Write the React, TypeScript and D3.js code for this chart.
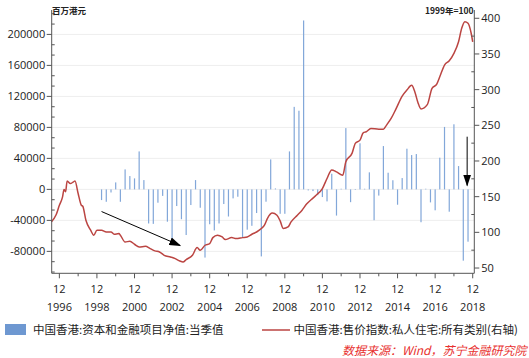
import React from 'react';
import * as d3 from 'd3';

const W = 529;
const H = 358;

// Quarterly net capital & financial account (HK$ mn), 1999Q1 - 2018Q3
const flowQuarters = [
  '1999Q1','1999Q2','1999Q3','1999Q4',
  '2000Q1','2000Q2','2000Q3','2000Q4',
  '2001Q1','2001Q2','2001Q3','2001Q4',
  '2002Q1','2002Q2','2002Q3','2002Q4',
  '2003Q1','2003Q2','2003Q3','2003Q4',
  '2004Q1','2004Q2','2004Q3','2004Q4',
  '2005Q1','2005Q2','2005Q3','2005Q4',
  '2006Q1','2006Q2','2006Q3','2006Q4',
  '2007Q1','2007Q2','2007Q3','2007Q4',
  '2008Q1','2008Q2','2008Q3','2008Q4',
  '2009Q1','2009Q2','2009Q3','2009Q4',
  '2010Q1','2010Q2','2010Q3','2010Q4',
  '2011Q1','2011Q2','2011Q3','2011Q4',
  '2012Q1','2012Q2','2012Q3','2012Q4',
  '2013Q1','2013Q2','2013Q3','2013Q4',
  '2014Q1','2014Q2','2014Q3','2014Q4',
  '2015Q1','2015Q2','2015Q3','2015Q4',
  '2016Q1','2016Q2','2016Q3','2016Q4',
  '2017Q1','2017Q2','2017Q3','2017Q4',
  '2018Q1','2018Q2','2018Q3',
];
const flowValues = [
  -13800, -16000, -4000, 9000,
  -16000, 25800, 17200, 14200,
  49000, 12000, -44000, -44500,
  -17200, -8400, -41700, -67000,
  -21500, -38500, -58900, -20200,
  12000, -23700, -88000, -45000,
  -53000, -44000, -18900, -35000,
  -11600, -9500, -62000, -52000,
  -47000, -30500, -86500, -15900,
  38700, 1200, -31500, -31500,
  49000, 106500, 101500, 218000,
  -1300, -2200, -7500, -9900,
  -15500, 20200, -33800, 800,
  79100, -16500, -500, 59500,
  800, 22000, -39800, -8000,
  55900, 21500, 11800, -19800,
  14600, 52500, 44300, 45600,
  -42400, 800, -16800, -27000,
  40900, 80600, -28800, 84000,
  30100, -92000, -67500,
];

// Private domestic price index, all classes (1999=100), right axis
const priceMonths = [
  '1996-07','1996-10','1996-12','1997-02','1997-03','1997-04','1997-05','1997-07','1997-09','1997-10','1997-12',
  '1998-02','1998-03','1998-05','1998-08','1998-10','1998-12',
  '1999-03','1999-06','1999-09','1999-11',
  '2000-02','2000-03','2000-06','2000-09','2000-12',
  '2001-03','2001-07','2001-10',
  '2002-01','2002-04','2002-07','2002-11',
  '2003-02','2003-05','2003-07','2003-09',
  '2004-01','2004-04','2004-06','2004-09','2004-12',
  '2005-02','2005-05','2005-08','2005-10',
  '2006-02','2006-05','2006-09','2006-12',
  '2007-03','2007-06','2007-09','2007-11',
  '2008-01','2008-04','2008-07','2008-09','2008-11',
  '2009-02','2009-04','2009-08','2009-11',
  '2010-02','2010-05','2010-08','2010-12',
  '2011-03','2011-06','2011-09',
  '2012-01','2012-03','2012-07','2012-09','2012-12',
  '2013-02','2013-04','2013-07','2013-12',
  '2014-03','2014-05','2014-08','2014-11',
  '2015-03','2015-06','2015-09','2015-11',
  '2016-01','2016-03','2016-07','2016-10',
  '2017-01','2017-03','2017-06','2017-09','2017-12',
  '2018-03','2018-05','2018-07','2018-09','2018-11','2018-12',
];
const priceValues = [
  115, 125, 138, 149.6, 160, 157, 172, 168.4, 170.7, 172, 154.4,
  138, 136.6, 117, 103, 96, 103,
  103, 100.6, 100.6, 97.3,
  98.3, 96, 86.5, 87.5, 83.3,
  79.5, 80.4, 77.2,
  74, 72.5, 67.8, 65.4,
  63.2, 59.8, 58.4, 61.8,
  67.8, 78.6, 74.8, 81.9, 84.2,
  92.6, 95.9, 93.5, 89.9,
  92.6, 91.2, 92.6, 93.5,
  97.3, 100.5, 105.3, 110,
  120, 127, 124, 116, 105.3,
  107.5, 114.6, 124, 131,
  140, 146, 152, 161.4,
  175.5, 187.5, 184.7,
  180, 199, 211, 224.6, 229.2,
  239.5, 241, 245.6, 244.6,
  244.6, 250.3, 260, 273,
  291, 299.4, 306, 297,
  282, 273, 279, 301.8,
  307.8, 318, 334.5, 340.5, 350.9,
  367.2, 386, 395.2, 393, 379, 367,
];

const leftTicks = [-80000, -40000, 0, 40000, 80000, 120000, 160000, 200000];
const rightTicks = [50, 100, 150, 200, 250, 300, 350, 400];
const tickYears = [1996,1997,1998,1999,2000,2001,2002,2003,2004,2005,2006,2007,2008,2009,2010,2011,2012,2013,2014,2015,2016,2017,2018];

const barLegend = '中国香港:资本和金融项目净值:当季值';
const lineLegend = '中国香港:售价指数:私人住宅:所有类别(右轴)';
const sourceText = '数据来源：Wind，苏宁金融研究院';

const BAR_COLOR = '#82a7d9';
const LEGEND_BOX = '#6e98d1';
const LINE_COLOR = '#bb4542';
const NUM_FONT = '"Open Sans", "Noto Sans", sans-serif';
const CJK_FONT = '"Noto Sans CJK SC", "Noto Sans", sans-serif';

export default function App() {
  const left = 51.7, right = 474.3, top = 10, bottom = 273.3;
  const x = d3.scaleTime().domain([new Date(1996, 6, 5), new Date(2019, 0, 1)]).range([left, right]);
  const yL = d3.scaleLinear().domain([-108300, 231500]).range([bottom, top]);
  const yR = d3.scaleLinear().domain([42.6, 411.6]).range([bottom, top]);

  const qDate = (q: string) => new Date(+q.slice(0, 4), +q.slice(5) * 3 - 1, 1);
  const mDate = (m: string) => new Date(+m.slice(0, 4), +m.slice(5) - 1, 1);

  const linePts: [number, number][] = priceMonths.map((m, i) => [x(mDate(m)), yR(priceValues[i])]);
  const linePath = d3.line().curve(d3.curveMonotoneX)(linePts) || '';

  const leftMinor = d3.range(-8, 18).map((k) => (k * 40000) / 3).filter((v) => v % 40000 !== 0 && v > -108300 && v < 231500);
  const rightMinor = d3.range(75, 411, 50);

  const a1 = { x1: x(new Date(1999, 2, 1)), y1: yL(-28600), x2: x(new Date(2003, 4, 10)), y2: yL(-72500) };
  const a2 = { x1: x(new Date(2018, 7, 15)), y1: yL(68000), x2: x(new Date(2018, 7, 15)), y2: yL(5000) };

  return (
    <svg width={W} height={H} style={{ position: 'absolute', left: 0, top: 0, background: '#fff' }}>
      <defs>
        <marker id="ah" markerUnits="userSpaceOnUse" markerWidth={12} markerHeight={8} refX={11} refY={4} orient="auto">
          <path d="M0,0 L12,4 L0,8 Z" fill="#000" />
        </marker>
      </defs>
      <rect width={W} height={H} fill="#fff" />
      {leftTicks.map((v) => (
        <line key={'g' + v} x1={left} x2={right} y1={yL(v)} y2={yL(v)} stroke="#eeeeee" strokeWidth={1} />
      ))}
      {flowQuarters.map((q, i) => {
        const v = flowValues[i];
        const y0 = yL(0), y1 = yL(v);
        return (
          <rect key={q} x={x(qDate(q)) - 0.6} width={1.2} y={Math.min(y0, y1)} height={Math.max(0.6, Math.abs(y1 - y0))} fill={BAR_COLOR} />
        );
      })}
      <path d={linePath} fill="none" stroke={LINE_COLOR} strokeWidth={1.5} strokeLinejoin="round" />
      <line x1={a1.x1} y1={a1.y1} x2={a1.x2} y2={a1.y2} stroke="#000" strokeWidth={1} markerEnd="url(#ah)" />
      <line x1={a2.x1} y1={a2.y1} x2={a2.x2} y2={a2.y2} stroke="#000" strokeWidth={1} markerEnd="url(#ah)" />
      <line x1={left} x2={left} y1={top} y2={bottom} stroke="#555" strokeWidth={1} />
      <line x1={right} x2={right} y1={top} y2={bottom} stroke="#555" strokeWidth={1} />
      <line x1={left} x2={right} y1={bottom} y2={bottom} stroke="#555" strokeWidth={1} />
      {leftTicks.map((v) => (
        <g key={'l' + v}>
          <line x1={left - 5} x2={left} y1={yL(v)} y2={yL(v)} stroke="#555" />
          <text x={left - 6.5} y={yL(v)} dy="0.36em" textAnchor="end" fontFamily={NUM_FONT} fontSize={11} fill="#222">
            {v}
          </text>
        </g>
      ))}
      {leftMinor.map((v) => (
        <line key={'lm' + v} x1={left} x2={left + 3} y1={yL(v)} y2={yL(v)} stroke="#555" />
      ))}
      {rightTicks.map((v) => (
        <g key={'r' + v}>
          <line x1={right} x2={right + 5} y1={yR(v)} y2={yR(v)} stroke="#555" />
          <text x={right + 7} y={yR(v)} dy="0.36em" textAnchor="start" fontFamily={NUM_FONT} fontSize={11} fill="#222">
            {v}
          </text>
        </g>
      ))}
      {rightMinor.map((v) => (
        <line key={'rm' + v} x1={right - 3} x2={right} y1={yR(v)} y2={yR(v)} stroke="#555" />
      ))}
      {tickYears.map((yr) => {
        const xx = x(new Date(yr, 11, 1));
        const major = (yr - 1996) % 2 === 0;
        return (
          <g key={'x' + yr}>
            <line x1={xx} x2={xx} y1={bottom} y2={bottom + (major ? 5 : 3)} stroke="#555" />
            {major && (
              <>
                <text x={xx} y={292.5} textAnchor="middle" fontFamily={NUM_FONT} fontSize={11} fill="#222">12</text>
                <text x={xx} y={310.5} textAnchor="middle" fontFamily={NUM_FONT} fontSize={11} fill="#222">{yr}</text>
              </>
            )}
          </g>
        );
      })}
      <text x={52} y={13.5} fontFamily={CJK_FONT} fontSize={8.5} fontWeight={700} fill="#222">百万港元</text>
      <text x={473.5} y={13.5} textAnchor="end" fontFamily={CJK_FONT} fontSize={8.5} fontWeight={700} fill="#222">1999年=100</text>
      <rect x={5} y={324} width={21} height={11} fill={LEGEND_BOX} />
      <text x={33} y={334.3} fontFamily={CJK_FONT} fontSize={11.5} fill="#222">{barLegend}</text>
      <line x1={262} x2={290} y1={330} y2={330} stroke={LINE_COLOR} strokeWidth={1.5} />
      <text x={293.5} y={334.3} fontFamily={CJK_FONT} fontSize={11.5} fill="#222">{lineLegend}</text>
      <text x={526.5} y={354.5} textAnchor="end" fontFamily={CJK_FONT} fontSize={12} fontStyle="italic" fill="#e8312f">{sourceText}</text>
    </svg>
  );
}
